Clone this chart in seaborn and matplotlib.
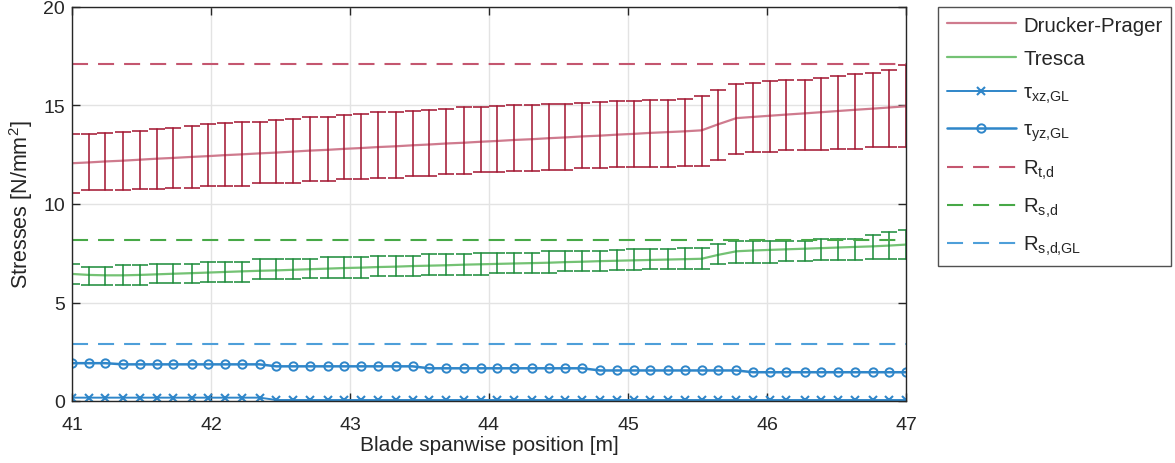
import numpy as np
import pandas as pd
import matplotlib
matplotlib.use("Agg")
import matplotlib.pyplot as plt
import seaborn as sns

# ---------------- data ----------------
position = [41.00, 41.12, 41.24, 41.37, 41.49, 41.61, 41.73, 41.86, 41.98, 42.10,
            42.22, 42.35, 42.47, 42.59, 42.71, 42.84, 42.96, 43.08, 43.20, 43.33,
            43.45, 43.57, 43.69, 43.82, 43.94, 44.06, 44.18, 44.31, 44.43, 44.55,
            44.67, 44.80, 44.92, 45.04, 45.16, 45.29, 45.41, 45.53, 45.65, 45.78,
            45.90, 46.02, 46.14, 46.27, 46.39, 46.51, 46.63, 46.76, 46.88, 47.00]

dp_mean = [12.07, 12.11, 12.16, 12.20, 12.25, 12.30, 12.34, 12.39, 12.43, 12.48,
           12.52, 12.57, 12.61, 12.66, 12.71, 12.75, 12.80, 12.84, 12.89, 12.93,
           12.98, 13.02, 13.07, 13.11, 13.16, 13.20, 13.25, 13.29, 13.34, 13.38,
           13.43, 13.47, 13.52, 13.56, 13.61, 13.65, 13.69, 13.74, 14.05, 14.36,
           14.42, 14.48, 14.54, 14.60, 14.66, 14.72, 14.78, 14.84, 14.90, 14.96]
dp_upper = [13.53, 13.53, 13.58, 13.63, 13.70, 13.79, 13.84, 13.95, 14.04, 14.12,
            14.17, 14.17, 14.26, 14.31, 14.42, 14.42, 14.54, 14.59, 14.65, 14.65,
            14.71, 14.76, 14.81, 14.93, 14.93, 14.98, 15.02, 15.02, 15.07, 15.07,
            15.13, 15.17, 15.22, 15.24, 15.27, 15.29, 15.33, 15.49, 15.81, 16.08,
            16.14, 16.23, 16.31, 16.31, 16.40, 16.50, 16.58, 16.65, 16.82, 17.04]
dp_lower = [10.58, 10.72, 10.72, 10.72, 10.77, 10.77, 10.83, 10.83, 10.92, 10.92,
            10.92, 11.09, 11.09, 11.09, 11.17, 11.17, 11.26, 11.26, 11.34, 11.34,
            11.43, 11.43, 11.51, 11.51, 11.61, 11.61, 11.68, 11.68, 11.73, 11.73,
            11.81, 11.81, 11.87, 11.88, 11.90, 11.90, 11.92, 11.93, 12.23, 12.54,
            12.65, 12.65, 12.74, 12.74, 12.74, 12.79, 12.79, 12.88, 12.88, 12.88]

tr_mean = [6.45, 6.40, 6.38, 6.38, 6.40, 6.43, 6.46, 6.49, 6.52, 6.55,
           6.58, 6.61, 6.63, 6.66, 6.69, 6.72, 6.75, 6.77, 6.80, 6.82,
           6.85, 6.87, 6.89, 6.92, 6.94, 6.96, 6.98, 7.00, 7.02, 7.05,
           7.07, 7.10, 7.12, 7.14, 7.16, 7.18, 7.20, 7.22, 7.42, 7.60,
           7.64, 7.67, 7.70, 7.73, 7.76, 7.79, 7.82, 7.85, 7.89, 7.94]
tr_upper = [6.96, 6.79, 6.79, 6.88, 6.88, 6.96, 6.96, 6.96, 7.04, 7.04,
            7.04, 7.21, 7.21, 7.21, 7.21, 7.30, 7.30, 7.30, 7.38, 7.38,
            7.38, 7.47, 7.47, 7.47, 7.52, 7.52, 7.52, 7.52, 7.60, 7.60,
            7.60, 7.60, 7.66, 7.72, 7.72, 7.74, 7.76, 7.77, 7.97, 8.10,
            8.10, 8.10, 8.10, 8.10, 8.20, 8.22, 8.24, 8.45, 8.56, 8.70]
tr_lower = [5.95, 5.88, 5.88, 5.88, 5.88, 6.00, 6.00, 6.00, 6.05, 6.05,
            6.05, 6.17, 6.17, 6.17, 6.25, 6.25, 6.25, 6.25, 6.34, 6.34,
            6.34, 6.42, 6.42, 6.42, 6.42, 6.51, 6.51, 6.51, 6.51, 6.59,
            6.59, 6.59, 6.64, 6.64, 6.71, 6.71, 6.71, 6.71, 6.93, 7.01,
            7.01, 7.01, 7.09, 7.09, 7.18, 7.18, 7.18, 7.21, 7.21, 7.21]

tau_xz = [0.17] * 12 + [0.05] * 38
tau_yz = ([1.92] * 3 + [1.86] * 9 + [1.76] * 9 + [1.66] * 10
          + [1.55] * 9 + [1.46] * 10)

R_t_d = 17.09
R_s_d = 8.16
R_s_d_GL = 2.90

labels = ["Drucker-Prager", "Tresca", r"$\mathregular{\tau_{xz{,}GL}}$",
          r"$\mathregular{\tau_{yz{,}GL}}$", r"R$_{t{,}d}$", r"R$_{s{,}d}$",
          r"R$_{s{,}d{,}GL}$"]

# ---------------- style ----------------
sns.set_theme(style="white")
plt.rcParams["font.family"] = ["Liberation Sans", "DejaVu Sans"]
plt.rcParams["mathtext.fontset"] = "custom"
plt.rcParams["mathtext.rm"] = "Liberation Sans"
plt.rcParams["mathtext.it"] = "Liberation Sans"
plt.rcParams["mathtext.bf"] = "Liberation Sans:bold"

TXT = "#262626"
DP_ERR = "#A2142F"
DP_LINE = "#cf7b8e"
DP_DASH = "#c4566f"
TR_ERR = "#1a8a38"
TR_LINE = "#74c274"
TR_DASH = "#47a847"
BLUE = "#2f86c9"
BLUE_DASH = "#4e9fd9"

fig = plt.figure(figsize=(11.75, 4.64), dpi=100)
ax = fig.add_axes([72 / 1175, 1 - 402 / 464, (906 - 72) / 1175, (402 - 8) / 464])


def band_frame(mean, lo, hi):
    rows = []
    for x, m, l, h in zip(position, mean, lo, hi):
        rows += [(x, l), (x, m), (x, h)]
    return pd.DataFrame(rows, columns=["x", "y"])


def span(v):
    return (np.min(v), np.max(v))


sns.lineplot(data=band_frame(dp_mean, dp_lower, dp_upper), x="x", y="y",
             estimator=np.median, errorbar=span, err_style="bars",
             err_kws=dict(ecolor=DP_ERR, capsize=6.0, elinewidth=1.1, capthick=1.1),
             color=DP_LINE, lw=1.6, ax=ax, label=labels[0])
sns.lineplot(data=band_frame(tr_mean, tr_lower, tr_upper), x="x", y="y",
             estimator=np.median, errorbar=span, err_style="bars",
             err_kws=dict(ecolor=TR_ERR, capsize=6.0, elinewidth=1.1, capthick=1.1),
             color=TR_LINE, lw=1.6, ax=ax, label=labels[1])

sns.lineplot(x=position, y=tau_xz, ax=ax, color=BLUE, lw=1.4, marker="x",
             markersize=6, markeredgecolor=BLUE, markeredgewidth=1.5,
             label=labels[2])
sns.lineplot(x=position, y=tau_yz, ax=ax, color=BLUE, lw=1.8, marker="o",
             markersize=6, markerfacecolor="none", markeredgecolor=BLUE,
             markeredgewidth=1.4, label=labels[3])

dash = (7.7, 4.8)
ax.axhline(R_t_d, color=DP_DASH, lw=1.5, dashes=dash, label=labels[4])
ax.axhline(R_s_d, color=TR_DASH, lw=1.5, dashes=dash, label=labels[5])
ax.axhline(R_s_d_GL, color=BLUE_DASH, lw=1.5, dashes=dash, label=labels[6])

# ---------------- axes ----------------
ax.set_xlim(41, 47)
ax.set_ylim(0, 20)
ax.set_xticks([41, 42, 43, 44, 45, 46, 47])
ax.set_yticks([0, 5, 10, 15, 20])
ax.grid(True, color="#e3e3e3", lw=1.0)
ax.set_axisbelow(True)
ax.tick_params(direction="in", length=6, width=1, colors=TXT, labelsize=14,
               top=True, right=True, bottom=True, left=True)
ax.tick_params(axis="x", pad=11)
ax.tick_params(axis="y", pad=5)
for s in ax.spines.values():
    s.set_color(TXT)
    s.set_linewidth(1.0)
ax.set_xlabel("Blade spanwise position [m]", fontsize=15, color=TXT, labelpad=1)
ax.set_ylabel(r"Stresses [N/mm$^2$]", fontsize=15.5, color=TXT, labelpad=6)

handles, lbls = ax.get_legend_handles_labels()
if ax.get_legend() is not None:
    ax.get_legend().remove()
order = [lbls.index(l) for l in labels]
leg = fig.legend([handles[i] for i in order], [lbls[i] for i in order],
                 loc="upper left", bbox_to_anchor=(938 / 1175, 1 - 8 / 464),
                 borderaxespad=0, frameon=True, fontsize=14.7, handlelength=3.4,
                 handletextpad=0.35, labelspacing=0.72, borderpad=0.42,
                 fancybox=False)
leg.get_frame().set_edgecolor(TXT)
leg.get_frame().set_linewidth(1.0)
for t in leg.get_texts():
    t.set_color(TXT)

fig.savefig("out.png", dpi=100)
